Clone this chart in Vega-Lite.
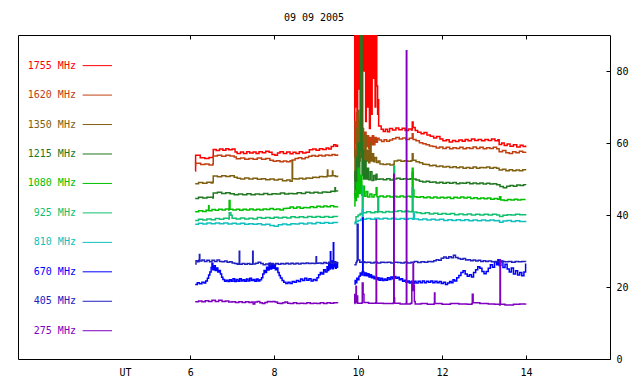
{
"$schema": "https://vega.github.io/schema/vega-lite/v6.json",
"width": 592, "height": 324,
"autosize": {"type": "none"},
"padding": {"left": 18, "top": 35, "right": 30, "bottom": 25},
"background": "white",
"title": {"text": "09 09 2005", "font": "DejaVu Sans Mono", "fontSize": 10, "fontWeight": "normal", "color": "black", "offset": 12, "anchor": "middle"},
"config": {"view": {"stroke": "black", "strokeWidth": 1}, "axis": {"labelFont": "DejaVu Sans Mono", "labelFontSize": 10, "labelColor": "black", "tickColor": "black", "grid": false, "domain": false}},
"datasets": {
"leg": [{"f":"1755","label":"1755 MHz"},{"f":"1620","label":"1620 MHz"},{"f":"1350","label":"1350 MHz"},{"f":"1215","label":"1215 MHz"},{"f":"1080","label":"1080 MHz"},{"f":"925","label":"925 MHz"},{"f":"810","label":"810 MHz"},{"f":"670","label":"670 MHz"},{"f":"405","label":"405 MHz"},{"f":"275","label":"275 MHz"}],
"obs": [
{"f":"1755","s":1,"t":6.12,"v":52.2},{"f":"1755","s":1,"t":6.13,"v":56.6},{"f":"1755","s":1,"t":6.24,"v":55.9},{"f":"1755","s":1,"t":6.35,"v":55.7},{"f":"1755","s":1,"t":6.45,"v":56.0},{"f":"1755","s":1,"t":6.55,"v":58.2},{"f":"1755","s":1,"t":6.62,"v":57.9},{"f":"1755","s":1,"t":6.7,"v":58.3},{"f":"1755","s":1,"t":6.78,"v":58.0},{"f":"1755","s":1,"t":6.85,"v":58.4},{"f":"1755","s":1,"t":6.92,"v":58.1},{"f":"1755","s":1,"t":7.0,"v":58.3},{"f":"1755","s":1,"t":7.07,"v":57.5},{"f":"1755","s":1,"t":7.12,"v":57.1},{"f":"1755","s":1,"t":7.2,"v":57.5},{"f":"1755","s":1,"t":7.27,"v":57.1},{"f":"1755","s":1,"t":7.35,"v":57.6},{"f":"1755","s":1,"t":7.42,"v":57.2},{"f":"1755","s":1,"t":7.5,"v":57.5},{"f":"1755","s":1,"t":7.57,"v":57.1},{"f":"1755","s":1,"t":7.64,"v":57.6},{"f":"1755","s":1,"t":7.72,"v":57.3},{"f":"1755","s":1,"t":7.8,"v":57.7},{"f":"1755","s":1,"t":7.88,"v":57.4},{"f":"1755","s":1,"t":7.95,"v":56.8},{"f":"1755","s":1,"t":8.02,"v":56.6},{"f":"1755","s":1,"t":8.08,"v":57.2},{"f":"1755","s":1,"t":8.14,"v":57.6},{"f":"1755","s":1,"t":8.22,"v":57.1},{"f":"1755","s":1,"t":8.3,"v":57.5},{"f":"1755","s":1,"t":8.38,"v":57.0},{"f":"1755","s":1,"t":8.45,"v":57.4},{"f":"1755","s":1,"t":8.52,"v":57.1},{"f":"1755","s":1,"t":8.6,"v":57.6},{"f":"1755","s":1,"t":8.68,"v":57.2},{"f":"1755","s":1,"t":8.76,"v":57.4},{"f":"1755","s":1,"t":8.84,"v":58.1},{"f":"1755","s":1,"t":8.92,"v":58.3},{"f":"1755","s":1,"t":9.0,"v":58.0},{"f":"1755","s":1,"t":9.08,"v":58.4},{"f":"1755","s":1,"t":9.16,"v":58.2},{"f":"1755","s":1,"t":9.24,"v":58.6},{"f":"1755","s":1,"t":9.3,"v":58.3},{"f":"1755","s":1,"t":9.36,"v":59.0},{"f":"1755","s":1,"t":9.42,"v":59.5},{"f":"1755","s":1,"t":9.47,"v":59.1},{"f":"1755","s":1,"t":9.51,"v":59.6},
{"f":"1755","s":2,"t":9.91,"v":56.4},{"f":"1755","s":2,"t":9.92,"v":95},{"f":"1755","s":2,"t":9.94,"v":70},{"f":"1755","s":2,"t":9.955,"v":95},{"f":"1755","s":2,"t":9.975,"v":62},{"f":"1755","s":2,"t":9.99,"v":95},{"f":"1755","s":2,"t":10.01,"v":75},{"f":"1755","s":2,"t":10.025,"v":95},{"f":"1755","s":2,"t":10.05,"v":66},{"f":"1755","s":2,"t":10.065,"v":95},{"f":"1755","s":2,"t":10.095,"v":64},{"f":"1755","s":2,"t":10.11,"v":95},{"f":"1755","s":2,"t":10.135,"v":80},{"f":"1755","s":2,"t":10.15,"v":95},{"f":"1755","s":2,"t":10.18,"v":66},{"f":"1755","s":2,"t":10.195,"v":95},{"f":"1755","s":2,"t":10.225,"v":70},{"f":"1755","s":2,"t":10.24,"v":95},{"f":"1755","s":2,"t":10.27,"v":64},{"f":"1755","s":2,"t":10.29,"v":95},{"f":"1755","s":2,"t":10.32,"v":68},{"f":"1755","s":2,"t":10.335,"v":95},{"f":"1755","s":2,"t":10.36,"v":78},{"f":"1755","s":2,"t":10.38,"v":92},{"f":"1755","s":2,"t":10.405,"v":70},{"f":"1755","s":2,"t":10.42,"v":95},{"f":"1755","s":2,"t":10.445,"v":75.8},{"f":"1755","s":2,"t":10.465,"v":68},{"f":"1755","s":2,"t":10.48,"v":72},{"f":"1755","s":2,"t":10.49,"v":64.7},{"f":"1755","s":2,"t":10.55,"v":63.8},{"f":"1755","s":2,"t":10.6,"v":63.2},{"f":"1755","s":2,"t":10.65,"v":63.8},{"f":"1755","s":2,"t":10.7,"v":63.1},{"f":"1755","s":2,"t":10.75,"v":64.0},{"f":"1755","s":2,"t":10.82,"v":63.6},{"f":"1755","s":2,"t":10.9,"v":64.2},{"f":"1755","s":2,"t":10.97,"v":63.7},{"f":"1755","s":2,"t":11.05,"v":64.1},{"f":"1755","s":2,"t":11.12,"v":63.5},{"f":"1755","s":2,"t":11.2,"v":63.9},{"f":"1755","s":2,"t":11.27,"v":63.6},{"f":"1755","s":2,"t":11.29,"v":65.8},{"f":"1755","s":2,"t":11.31,"v":64.3},{"f":"1755","s":2,"t":11.36,"v":63.5},{"f":"1755","s":2,"t":11.42,"v":63.0},{"f":"1755","s":2,"t":11.5,"v":62.6},{"f":"1755","s":2,"t":11.57,"v":62.9},{"f":"1755","s":2,"t":11.64,"v":62.2},{"f":"1755","s":2,"t":11.72,"v":61.9},{"f":"1755","s":2,"t":11.8,"v":61.4},{"f":"1755","s":2,"t":11.87,"v":61.8},{"f":"1755","s":2,"t":11.95,"v":61.1},{"f":"1755","s":2,"t":12.02,"v":60.6},{"f":"1755","s":2,"t":12.1,"v":60.9},{"f":"1755","s":2,"t":12.17,"v":60.3},{"f":"1755","s":2,"t":12.25,"v":60.7},{"f":"1755","s":2,"t":12.32,"v":60.4},{"f":"1755","s":2,"t":12.4,"v":60.8},{"f":"1755","s":2,"t":12.48,"v":60.5},{"f":"1755","s":2,"t":12.55,"v":61.0},{"f":"1755","s":2,"t":12.62,"v":60.6},{"f":"1755","s":2,"t":12.7,"v":61.1},{"f":"1755","s":2,"t":12.78,"v":60.7},{"f":"1755","s":2,"t":12.86,"v":61.0},{"f":"1755","s":2,"t":12.94,"v":60.6},{"f":"1755","s":2,"t":13.02,"v":61.0},{"f":"1755","s":2,"t":13.1,"v":60.7},{"f":"1755","s":2,"t":13.18,"v":61.1},{"f":"1755","s":2,"t":13.26,"v":60.6},{"f":"1755","s":2,"t":13.33,"v":60.9},{"f":"1755","s":2,"t":13.36,"v":59.6},{"f":"1755","s":2,"t":13.42,"v":60.0},{"f":"1755","s":2,"t":13.48,"v":59.3},{"f":"1755","s":2,"t":13.55,"v":59.7},{"f":"1755","s":2,"t":13.62,"v":59.1},{"f":"1755","s":2,"t":13.7,"v":59.5},{"f":"1755","s":2,"t":13.78,"v":58.9},{"f":"1755","s":2,"t":13.86,"v":59.4},{"f":"1755","s":2,"t":13.93,"v":59.0},{"f":"1755","s":2,"t":13.99,"v":59.3},
{"f":"1620","s":1,"t":6.12,"v":53.8},{"f":"1620","s":1,"t":6.13,"v":54.4},{"f":"1620","s":1,"t":6.25,"v":54.0},{"f":"1620","s":1,"t":6.35,"v":54.2},{"f":"1620","s":1,"t":6.45,"v":53.9},{"f":"1620","s":1,"t":6.54,"v":54.2},{"f":"1620","s":1,"t":6.55,"v":56.4},{"f":"1620","s":1,"t":6.65,"v":56.6},{"f":"1620","s":1,"t":6.75,"v":56.3},{"f":"1620","s":1,"t":6.85,"v":56.6},{"f":"1620","s":1,"t":6.95,"v":56.4},{"f":"1620","s":1,"t":7.05,"v":56.1},{"f":"1620","s":1,"t":7.1,"v":55.6},{"f":"1620","s":1,"t":7.2,"v":55.8},{"f":"1620","s":1,"t":7.3,"v":55.5},{"f":"1620","s":1,"t":7.4,"v":55.7},{"f":"1620","s":1,"t":7.5,"v":55.5},{"f":"1620","s":1,"t":7.6,"v":55.8},{"f":"1620","s":1,"t":7.7,"v":55.5},{"f":"1620","s":1,"t":7.8,"v":55.7},{"f":"1620","s":1,"t":7.9,"v":55.2},{"f":"1620","s":1,"t":7.98,"v":54.9},{"f":"1620","s":1,"t":8.06,"v":55.1},{"f":"1620","s":1,"t":8.14,"v":54.8},{"f":"1620","s":1,"t":8.22,"v":55.0},{"f":"1620","s":1,"t":8.3,"v":54.8},{"f":"1620","s":1,"t":8.38,"v":55.1},{"f":"1620","s":1,"t":8.43,"v":55.3},{"f":"1620","s":1,"t":8.5,"v":55.7},{"f":"1620","s":1,"t":8.58,"v":55.9},{"f":"1620","s":1,"t":8.66,"v":55.6},{"f":"1620","s":1,"t":8.74,"v":56.0},{"f":"1620","s":1,"t":8.82,"v":56.3},{"f":"1620","s":1,"t":8.9,"v":56.5},{"f":"1620","s":1,"t":8.98,"v":56.3},{"f":"1620","s":1,"t":9.06,"v":56.6},{"f":"1620","s":1,"t":9.14,"v":56.4},{"f":"1620","s":1,"t":9.22,"v":56.7},{"f":"1620","s":1,"t":9.3,"v":56.5},{"f":"1620","s":1,"t":9.38,"v":56.8},{"f":"1620","s":1,"t":9.45,"v":56.6},{"f":"1620","s":1,"t":9.51,"v":56.9},
{"f":"1620","s":2,"t":9.91,"v":56.0},{"f":"1620","s":2,"t":9.925,"v":66},{"f":"1620","s":2,"t":9.94,"v":60},{"f":"1620","s":2,"t":9.96,"v":68.5},{"f":"1620","s":2,"t":9.98,"v":61},{"f":"1620","s":2,"t":10.0,"v":65},{"f":"1620","s":2,"t":10.02,"v":59},{"f":"1620","s":2,"t":10.05,"v":67},{"f":"1620","s":2,"t":10.07,"v":60},{"f":"1620","s":2,"t":10.1,"v":64},{"f":"1620","s":2,"t":10.13,"v":58.5},{"f":"1620","s":2,"t":10.16,"v":63},{"f":"1620","s":2,"t":10.19,"v":59},{"f":"1620","s":2,"t":10.22,"v":62},{"f":"1620","s":2,"t":10.25,"v":58.5},{"f":"1620","s":2,"t":10.28,"v":61.5},{"f":"1620","s":2,"t":10.31,"v":59.5},{"f":"1620","s":2,"t":10.34,"v":62},{"f":"1620","s":2,"t":10.37,"v":59.5},{"f":"1620","s":2,"t":10.4,"v":61.5},{"f":"1620","s":2,"t":10.43,"v":60.2},{"f":"1620","s":2,"t":10.46,"v":61.3},{"f":"1620","s":2,"t":10.5,"v":60.8},{"f":"1620","s":2,"t":10.56,"v":60.4},{"f":"1620","s":2,"t":10.62,"v":60.9},{"f":"1620","s":2,"t":10.68,"v":60.5},{"f":"1620","s":2,"t":10.75,"v":60.8},{"f":"1620","s":2,"t":10.82,"v":61.2},{"f":"1620","s":2,"t":10.9,"v":61.5},{"f":"1620","s":2,"t":10.98,"v":61.1},{"f":"1620","s":2,"t":11.06,"v":61.4},{"f":"1620","s":2,"t":11.14,"v":61.0},{"f":"1620","s":2,"t":11.22,"v":61.3},{"f":"1620","s":2,"t":11.29,"v":62.6},{"f":"1620","s":2,"t":11.31,"v":61.0},{"f":"1620","s":2,"t":11.38,"v":60.6},{"f":"1620","s":2,"t":11.46,"v":60.1},{"f":"1620","s":2,"t":11.54,"v":59.8},{"f":"1620","s":2,"t":11.62,"v":59.5},{"f":"1620","s":2,"t":11.7,"v":59.2},{"f":"1620","s":2,"t":11.78,"v":59.0},{"f":"1620","s":2,"t":11.86,"v":58.6},{"f":"1620","s":2,"t":11.94,"v":58.9},{"f":"1620","s":2,"t":12.02,"v":58.5},{"f":"1620","s":2,"t":12.1,"v":58.8},{"f":"1620","s":2,"t":12.18,"v":58.4},{"f":"1620","s":2,"t":12.26,"v":58.7},{"f":"1620","s":2,"t":12.34,"v":58.5},{"f":"1620","s":2,"t":12.42,"v":58.8},{"f":"1620","s":2,"t":12.5,"v":58.4},{"f":"1620","s":2,"t":12.58,"v":58.7},{"f":"1620","s":2,"t":12.66,"v":58.5},{"f":"1620","s":2,"t":12.74,"v":58.9},{"f":"1620","s":2,"t":12.82,"v":58.5},{"f":"1620","s":2,"t":12.9,"v":58.8},{"f":"1620","s":2,"t":12.98,"v":58.4},{"f":"1620","s":2,"t":13.06,"v":58.7},{"f":"1620","s":2,"t":13.14,"v":58.5},{"f":"1620","s":2,"t":13.22,"v":58.8},{"f":"1620","s":2,"t":13.3,"v":58.4},{"f":"1620","s":2,"t":13.36,"v":57.6},{"f":"1620","s":2,"t":13.44,"v":57.9},{"f":"1620","s":2,"t":13.52,"v":57.3},{"f":"1620","s":2,"t":13.6,"v":57.1},{"f":"1620","s":2,"t":13.68,"v":57.6},{"f":"1620","s":2,"t":13.76,"v":57.3},{"f":"1620","s":2,"t":13.84,"v":57.7},{"f":"1620","s":2,"t":13.92,"v":57.4},{"f":"1620","s":2,"t":13.99,"v":57.6},
{"f":"1350","s":1,"t":6.12,"v":48.7},{"f":"1350","s":1,"t":6.2,"v":49.0},{"f":"1350","s":1,"t":6.3,"v":48.8},{"f":"1350","s":1,"t":6.4,"v":49.1},{"f":"1350","s":1,"t":6.5,"v":48.9},{"f":"1350","s":1,"t":6.54,"v":49.2},{"f":"1350","s":1,"t":6.55,"v":50.8},{"f":"1350","s":1,"t":6.65,"v":50.6},{"f":"1350","s":1,"t":6.75,"v":50.9},{"f":"1350","s":1,"t":6.85,"v":50.7},{"f":"1350","s":1,"t":6.95,"v":50.9},{"f":"1350","s":1,"t":7.05,"v":50.5},{"f":"1350","s":1,"t":7.12,"v":50.2},{"f":"1350","s":1,"t":7.2,"v":50.0},{"f":"1350","s":1,"t":7.3,"v":50.3},{"f":"1350","s":1,"t":7.4,"v":50.0},{"f":"1350","s":1,"t":7.5,"v":50.2},{"f":"1350","s":1,"t":7.6,"v":49.9},{"f":"1350","s":1,"t":7.7,"v":50.1},{"f":"1350","s":1,"t":7.8,"v":49.8},{"f":"1350","s":1,"t":7.9,"v":50.0},{"f":"1350","s":1,"t":8.0,"v":49.7},{"f":"1350","s":1,"t":8.1,"v":49.9},{"f":"1350","s":1,"t":8.2,"v":49.5},{"f":"1350","s":1,"t":8.3,"v":49.7},{"f":"1350","s":1,"t":8.38,"v":49.4},{"f":"1350","s":1,"t":8.43,"v":55.0},{"f":"1350","s":1,"t":8.44,"v":50.1},{"f":"1350","s":1,"t":8.52,"v":50.0},{"f":"1350","s":1,"t":8.6,"v":50.2},{"f":"1350","s":1,"t":8.68,"v":50.0},{"f":"1350","s":1,"t":8.76,"v":50.3},{"f":"1350","s":1,"t":8.84,"v":50.2},{"f":"1350","s":1,"t":8.92,"v":50.5},{"f":"1350","s":1,"t":9.0,"v":50.4},{"f":"1350","s":1,"t":9.08,"v":50.7},{"f":"1350","s":1,"t":9.16,"v":50.6},{"f":"1350","s":1,"t":9.26,"v":50.8},{"f":"1350","s":1,"t":9.27,"v":52.5},{"f":"1350","s":1,"t":9.28,"v":50.8},{"f":"1350","s":1,"t":9.36,"v":50.9},{"f":"1350","s":1,"t":9.39,"v":52.2},{"f":"1350","s":1,"t":9.4,"v":50.9},{"f":"1350","s":1,"t":9.46,"v":50.7},{"f":"1350","s":1,"t":9.51,"v":51.0},
{"f":"1350","s":2,"t":9.91,"v":49.5},{"f":"1350","s":2,"t":9.925,"v":58},{"f":"1350","s":2,"t":9.94,"v":52},{"f":"1350","s":2,"t":9.96,"v":64},{"f":"1350","s":2,"t":9.98,"v":54},{"f":"1350","s":2,"t":10.0,"v":69},{"f":"1350","s":2,"t":10.02,"v":55},{"f":"1350","s":2,"t":10.05,"v":66},{"f":"1350","s":2,"t":10.07,"v":56},{"f":"1350","s":2,"t":10.1,"v":60},{"f":"1350","s":2,"t":10.13,"v":54},{"f":"1350","s":2,"t":10.16,"v":62},{"f":"1350","s":2,"t":10.19,"v":55},{"f":"1350","s":2,"t":10.22,"v":58},{"f":"1350","s":2,"t":10.25,"v":54.5},{"f":"1350","s":2,"t":10.28,"v":60},{"f":"1350","s":2,"t":10.31,"v":55},{"f":"1350","s":2,"t":10.34,"v":57},{"f":"1350","s":2,"t":10.37,"v":54.8},{"f":"1350","s":2,"t":10.4,"v":56},{"f":"1350","s":2,"t":10.44,"v":54.6},{"f":"1350","s":2,"t":10.48,"v":55.0},{"f":"1350","s":2,"t":10.52,"v":54.2},{"f":"1350","s":2,"t":10.6,"v":54.0},{"f":"1350","s":2,"t":10.68,"v":54.2},{"f":"1350","s":2,"t":10.76,"v":53.9},{"f":"1350","s":2,"t":10.84,"v":54.1},{"f":"1350","s":2,"t":10.86,"v":55.0},{"f":"1350","s":2,"t":10.94,"v":55.2},{"f":"1350","s":2,"t":11.02,"v":54.9},{"f":"1350","s":2,"t":11.1,"v":55.1},{"f":"1350","s":2,"t":11.18,"v":54.9},{"f":"1350","s":2,"t":11.26,"v":55.1},{"f":"1350","s":2,"t":11.29,"v":57.0},{"f":"1350","s":2,"t":11.31,"v":55.2},{"f":"1350","s":2,"t":11.38,"v":54.8},{"f":"1350","s":2,"t":11.46,"v":54.5},{"f":"1350","s":2,"t":11.54,"v":54.1},{"f":"1350","s":2,"t":11.62,"v":54.0},{"f":"1350","s":2,"t":11.7,"v":53.7},{"f":"1350","s":2,"t":11.78,"v":53.8},{"f":"1350","s":2,"t":11.86,"v":53.5},{"f":"1350","s":2,"t":11.94,"v":53.6},{"f":"1350","s":2,"t":12.02,"v":53.3},{"f":"1350","s":2,"t":12.1,"v":53.5},{"f":"1350","s":2,"t":12.18,"v":53.2},{"f":"1350","s":2,"t":12.26,"v":53.4},{"f":"1350","s":2,"t":12.34,"v":53.1},{"f":"1350","s":2,"t":12.42,"v":53.3},{"f":"1350","s":2,"t":12.5,"v":53.0},{"f":"1350","s":2,"t":12.58,"v":53.2},{"f":"1350","s":2,"t":12.66,"v":53.0},{"f":"1350","s":2,"t":12.74,"v":53.3},{"f":"1350","s":2,"t":12.82,"v":53.0},{"f":"1350","s":2,"t":12.9,"v":53.2},{"f":"1350","s":2,"t":12.98,"v":53.1},{"f":"1350","s":2,"t":13.06,"v":53.3},{"f":"1350","s":2,"t":13.14,"v":53.0},{"f":"1350","s":2,"t":13.22,"v":53.2},{"f":"1350","s":2,"t":13.3,"v":53.0},{"f":"1350","s":2,"t":13.36,"v":52.5},{"f":"1350","s":2,"t":13.44,"v":52.7},{"f":"1350","s":2,"t":13.52,"v":52.3},{"f":"1350","s":2,"t":13.6,"v":52.6},{"f":"1350","s":2,"t":13.68,"v":52.3},{"f":"1350","s":2,"t":13.76,"v":52.5},{"f":"1350","s":2,"t":13.84,"v":52.3},{"f":"1350","s":2,"t":13.92,"v":52.6},{"f":"1350","s":2,"t":13.99,"v":52.4},
{"f":"1215","s":1,"t":6.12,"v":44.6},{"f":"1215","s":1,"t":6.2,"v":44.9},{"f":"1215","s":1,"t":6.3,"v":44.7},{"f":"1215","s":1,"t":6.4,"v":44.9},{"f":"1215","s":1,"t":6.54,"v":44.7},{"f":"1215","s":1,"t":6.55,"v":46.1},{"f":"1215","s":1,"t":6.65,"v":46.3},{"f":"1215","s":1,"t":6.75,"v":46.0},{"f":"1215","s":1,"t":6.85,"v":46.2},{"f":"1215","s":1,"t":6.95,"v":45.9},{"f":"1215","s":1,"t":7.05,"v":45.6},{"f":"1215","s":1,"t":7.15,"v":45.8},{"f":"1215","s":1,"t":7.25,"v":45.6},{"f":"1215","s":1,"t":7.35,"v":45.9},{"f":"1215","s":1,"t":7.45,"v":45.6},{"f":"1215","s":1,"t":7.55,"v":45.8},{"f":"1215","s":1,"t":7.65,"v":45.7},{"f":"1215","s":1,"t":7.75,"v":46.0},{"f":"1215","s":1,"t":7.85,"v":45.7},{"f":"1215","s":1,"t":7.95,"v":45.9},{"f":"1215","s":1,"t":8.05,"v":45.8},{"f":"1215","s":1,"t":8.15,"v":46.1},{"f":"1215","s":1,"t":8.25,"v":45.8},{"f":"1215","s":1,"t":8.35,"v":46.0},{"f":"1215","s":1,"t":8.45,"v":45.9},{"f":"1215","s":1,"t":8.55,"v":46.2},{"f":"1215","s":1,"t":8.65,"v":46.0},{"f":"1215","s":1,"t":8.75,"v":46.3},{"f":"1215","s":1,"t":8.85,"v":46.1},{"f":"1215","s":1,"t":8.95,"v":46.3},{"f":"1215","s":1,"t":9.05,"v":46.1},{"f":"1215","s":1,"t":9.15,"v":46.4},{"f":"1215","s":1,"t":9.25,"v":46.3},{"f":"1215","s":1,"t":9.35,"v":46.6},{"f":"1215","s":1,"t":9.44,"v":46.5},{"f":"1215","s":1,"t":9.45,"v":47.6},{"f":"1215","s":1,"t":9.46,"v":46.7},{"f":"1215","s":1,"t":9.51,"v":46.5},
{"f":"1215","s":2,"t":9.91,"v":45.0},{"f":"1215","s":2,"t":9.925,"v":52},{"f":"1215","s":2,"t":9.94,"v":47},{"f":"1215","s":2,"t":9.96,"v":56},{"f":"1215","s":2,"t":9.98,"v":49},{"f":"1215","s":2,"t":10.0,"v":60},{"f":"1215","s":2,"t":10.02,"v":50},{"f":"1215","s":2,"t":10.04,"v":58},{"f":"1215","s":2,"t":10.06,"v":95},{"f":"1215","s":2,"t":10.075,"v":70},{"f":"1215","s":2,"t":10.08,"v":95},{"f":"1215","s":2,"t":10.095,"v":51},{"f":"1215","s":2,"t":10.1,"v":58},{"f":"1215","s":2,"t":10.13,"v":50},{"f":"1215","s":2,"t":10.16,"v":55},{"f":"1215","s":2,"t":10.19,"v":50},{"f":"1215","s":2,"t":10.22,"v":53},{"f":"1215","s":2,"t":10.25,"v":49.8},{"f":"1215","s":2,"t":10.29,"v":52},{"f":"1215","s":2,"t":10.33,"v":49.6},{"f":"1215","s":2,"t":10.37,"v":51},{"f":"1215","s":2,"t":10.41,"v":49.8},{"f":"1215","s":2,"t":10.43,"v":51.3},{"f":"1215","s":2,"t":10.45,"v":49.9},{"f":"1215","s":2,"t":10.52,"v":50.0},{"f":"1215","s":2,"t":10.6,"v":49.8},{"f":"1215","s":2,"t":10.68,"v":50.1},{"f":"1215","s":2,"t":10.76,"v":49.7},{"f":"1215","s":2,"t":10.84,"v":50.0},{"f":"1215","s":2,"t":10.92,"v":50.2},{"f":"1215","s":2,"t":11.0,"v":49.9},{"f":"1215","s":2,"t":11.08,"v":50.1},{"f":"1215","s":2,"t":11.16,"v":49.9},{"f":"1215","s":2,"t":11.24,"v":50.1},{"f":"1215","s":2,"t":11.29,"v":51.9},{"f":"1215","s":2,"t":11.31,"v":50.0},{"f":"1215","s":2,"t":11.38,"v":49.7},{"f":"1215","s":2,"t":11.46,"v":49.4},{"f":"1215","s":2,"t":11.54,"v":49.2},{"f":"1215","s":2,"t":11.62,"v":49.4},{"f":"1215","s":2,"t":11.7,"v":49.1},{"f":"1215","s":2,"t":11.78,"v":49.2},{"f":"1215","s":2,"t":11.86,"v":48.9},{"f":"1215","s":2,"t":11.94,"v":49.1},{"f":"1215","s":2,"t":12.02,"v":48.8},{"f":"1215","s":2,"t":12.1,"v":49.0},{"f":"1215","s":2,"t":12.18,"v":48.8},{"f":"1215","s":2,"t":12.26,"v":49.0},{"f":"1215","s":2,"t":12.34,"v":48.7},{"f":"1215","s":2,"t":12.42,"v":48.9},{"f":"1215","s":2,"t":12.5,"v":48.8},{"f":"1215","s":2,"t":12.58,"v":49.0},{"f":"1215","s":2,"t":12.66,"v":48.7},{"f":"1215","s":2,"t":12.74,"v":48.9},{"f":"1215","s":2,"t":12.82,"v":48.7},{"f":"1215","s":2,"t":12.9,"v":48.9},{"f":"1215","s":2,"t":12.98,"v":48.6},{"f":"1215","s":2,"t":13.06,"v":48.8},{"f":"1215","s":2,"t":13.14,"v":48.6},{"f":"1215","s":2,"t":13.22,"v":48.7},{"f":"1215","s":2,"t":13.3,"v":48.4},{"f":"1215","s":2,"t":13.38,"v":47.9},{"f":"1215","s":2,"t":13.46,"v":47.6},{"f":"1215","s":2,"t":13.54,"v":48.0},{"f":"1215","s":2,"t":13.62,"v":48.2},{"f":"1215","s":2,"t":13.7,"v":48.0},{"f":"1215","s":2,"t":13.78,"v":48.3},{"f":"1215","s":2,"t":13.86,"v":48.2},{"f":"1215","s":2,"t":13.94,"v":48.4},{"f":"1215","s":2,"t":13.99,"v":48.3},
{"f":"1080","s":1,"t":6.12,"v":40.9},{"f":"1080","s":1,"t":6.2,"v":41.2},{"f":"1080","s":1,"t":6.3,"v":41.0},{"f":"1080","s":1,"t":6.38,"v":41.3},{"f":"1080","s":1,"t":6.44,"v":42.6},{"f":"1080","s":1,"t":6.45,"v":41.2},{"f":"1080","s":1,"t":6.52,"v":41.5},{"f":"1080","s":1,"t":6.6,"v":41.3},{"f":"1080","s":1,"t":6.68,"v":41.6},{"f":"1080","s":1,"t":6.76,"v":41.4},{"f":"1080","s":1,"t":6.84,"v":41.7},{"f":"1080","s":1,"t":6.92,"v":41.4},{"f":"1080","s":1,"t":6.93,"v":44.0},{"f":"1080","s":1,"t":6.95,"v":41.6},{"f":"1080","s":1,"t":7.02,"v":41.4},{"f":"1080","s":1,"t":7.1,"v":41.6},{"f":"1080","s":1,"t":7.18,"v":41.3},{"f":"1080","s":1,"t":7.26,"v":41.6},{"f":"1080","s":1,"t":7.34,"v":41.4},{"f":"1080","s":1,"t":7.42,"v":41.7},{"f":"1080","s":1,"t":7.5,"v":41.4},{"f":"1080","s":1,"t":7.58,"v":41.6},{"f":"1080","s":1,"t":7.66,"v":41.4},{"f":"1080","s":1,"t":7.74,"v":41.7},{"f":"1080","s":1,"t":7.82,"v":41.5},{"f":"1080","s":1,"t":7.9,"v":41.8},{"f":"1080","s":1,"t":7.98,"v":41.5},{"f":"1080","s":1,"t":8.06,"v":41.7},{"f":"1080","s":1,"t":8.14,"v":41.4},{"f":"1080","s":1,"t":8.22,"v":41.8},{"f":"1080","s":1,"t":8.3,"v":41.9},{"f":"1080","s":1,"t":8.38,"v":42.2},{"f":"1080","s":1,"t":8.46,"v":41.9},{"f":"1080","s":1,"t":8.54,"v":42.2},{"f":"1080","s":1,"t":8.62,"v":41.9},{"f":"1080","s":1,"t":8.7,"v":42.1},{"f":"1080","s":1,"t":8.78,"v":42.0},{"f":"1080","s":1,"t":8.86,"v":42.3},{"f":"1080","s":1,"t":8.94,"v":42.1},{"f":"1080","s":1,"t":9.02,"v":42.4},{"f":"1080","s":1,"t":9.1,"v":42.2},{"f":"1080","s":1,"t":9.18,"v":42.5},{"f":"1080","s":1,"t":9.26,"v":42.3},{"f":"1080","s":1,"t":9.34,"v":42.6},{"f":"1080","s":1,"t":9.42,"v":42.3},{"f":"1080","s":1,"t":9.51,"v":42.4},
{"f":"1080","s":2,"t":9.91,"v":42.5},{"f":"1080","s":2,"t":9.925,"v":46},{"f":"1080","s":2,"t":9.94,"v":44},{"f":"1080","s":2,"t":9.96,"v":49},{"f":"1080","s":2,"t":9.98,"v":45},{"f":"1080","s":2,"t":10.0,"v":53},{"f":"1080","s":2,"t":10.03,"v":46},{"f":"1080","s":2,"t":10.06,"v":51},{"f":"1080","s":2,"t":10.09,"v":45.5},{"f":"1080","s":2,"t":10.12,"v":48},{"f":"1080","s":2,"t":10.15,"v":45.2},{"f":"1080","s":2,"t":10.19,"v":46.5},{"f":"1080","s":2,"t":10.23,"v":45.0},{"f":"1080","s":2,"t":10.28,"v":45.8},{"f":"1080","s":2,"t":10.33,"v":45.0},{"f":"1080","s":2,"t":10.38,"v":45.6},{"f":"1080","s":2,"t":10.43,"v":47.6},{"f":"1080","s":2,"t":10.45,"v":45.1},{"f":"1080","s":2,"t":10.52,"v":45.3},{"f":"1080","s":2,"t":10.6,"v":45.0},{"f":"1080","s":2,"t":10.68,"v":45.3},{"f":"1080","s":2,"t":10.76,"v":45.0},{"f":"1080","s":2,"t":10.84,"v":45.2},{"f":"1080","s":2,"t":10.92,"v":45.0},{"f":"1080","s":2,"t":11.0,"v":45.3},{"f":"1080","s":2,"t":11.08,"v":45.0},{"f":"1080","s":2,"t":11.16,"v":45.2},{"f":"1080","s":2,"t":11.24,"v":45.0},{"f":"1080","s":2,"t":11.29,"v":53.0},{"f":"1080","s":2,"t":11.31,"v":47.0},{"f":"1080","s":2,"t":11.33,"v":45.1},{"f":"1080","s":2,"t":11.4,"v":44.9},{"f":"1080","s":2,"t":11.48,"v":45.1},{"f":"1080","s":2,"t":11.56,"v":44.8},{"f":"1080","s":2,"t":11.64,"v":45.0},{"f":"1080","s":2,"t":11.72,"v":44.7},{"f":"1080","s":2,"t":11.8,"v":45.0},{"f":"1080","s":2,"t":11.88,"v":44.7},{"f":"1080","s":2,"t":11.96,"v":44.9},{"f":"1080","s":2,"t":12.04,"v":44.7},{"f":"1080","s":2,"t":12.12,"v":44.9},{"f":"1080","s":2,"t":12.2,"v":44.6},{"f":"1080","s":2,"t":12.28,"v":44.9},{"f":"1080","s":2,"t":12.36,"v":44.7},{"f":"1080","s":2,"t":12.44,"v":45.0},{"f":"1080","s":2,"t":12.52,"v":44.7},{"f":"1080","s":2,"t":12.6,"v":44.9},{"f":"1080","s":2,"t":12.68,"v":44.6},{"f":"1080","s":2,"t":12.76,"v":44.8},{"f":"1080","s":2,"t":12.84,"v":44.5},{"f":"1080","s":2,"t":12.92,"v":44.7},{"f":"1080","s":2,"t":13.0,"v":44.5},{"f":"1080","s":2,"t":13.08,"v":44.7},{"f":"1080","s":2,"t":13.16,"v":44.4},{"f":"1080","s":2,"t":13.24,"v":44.6},{"f":"1080","s":2,"t":13.32,"v":44.4},{"f":"1080","s":2,"t":13.37,"v":45.1},{"f":"1080","s":2,"t":13.4,"v":44.2},{"f":"1080","s":2,"t":13.48,"v":44.0},{"f":"1080","s":2,"t":13.56,"v":44.3},{"f":"1080","s":2,"t":13.64,"v":44.2},{"f":"1080","s":2,"t":13.72,"v":44.4},{"f":"1080","s":2,"t":13.8,"v":44.2},{"f":"1080","s":2,"t":13.88,"v":44.3},{"f":"1080","s":2,"t":13.99,"v":44.3},
{"f":"925","s":1,"t":6.12,"v":38.5},{"f":"925","s":1,"t":6.2,"v":38.8},{"f":"925","s":1,"t":6.3,"v":38.6},{"f":"925","s":1,"t":6.4,"v":38.9},{"f":"925","s":1,"t":6.5,"v":38.7},{"f":"925","s":1,"t":6.6,"v":39.0},{"f":"925","s":1,"t":6.7,"v":38.8},{"f":"925","s":1,"t":6.8,"v":39.1},{"f":"925","s":1,"t":6.92,"v":38.9},{"f":"925","s":1,"t":6.93,"v":40.6},{"f":"925","s":1,"t":6.97,"v":39.9},{"f":"925","s":1,"t":7.0,"v":39.1},{"f":"925","s":1,"t":7.1,"v":38.9},{"f":"925","s":1,"t":7.2,"v":39.2},{"f":"925","s":1,"t":7.3,"v":38.9},{"f":"925","s":1,"t":7.4,"v":39.1},{"f":"925","s":1,"t":7.5,"v":38.9},{"f":"925","s":1,"t":7.6,"v":39.3},{"f":"925","s":1,"t":7.7,"v":39.1},{"f":"925","s":1,"t":7.8,"v":39.3},{"f":"925","s":1,"t":7.9,"v":39.1},{"f":"925","s":1,"t":8.0,"v":39.4},{"f":"925","s":1,"t":8.1,"v":39.2},{"f":"925","s":1,"t":8.2,"v":39.4},{"f":"925","s":1,"t":8.3,"v":39.2},{"f":"925","s":1,"t":8.4,"v":39.5},{"f":"925","s":1,"t":8.5,"v":39.3},{"f":"925","s":1,"t":8.6,"v":39.5},{"f":"925","s":1,"t":8.7,"v":39.3},{"f":"925","s":1,"t":8.8,"v":39.6},{"f":"925","s":1,"t":8.9,"v":39.4},{"f":"925","s":1,"t":9.0,"v":39.6},{"f":"925","s":1,"t":9.1,"v":39.4},{"f":"925","s":1,"t":9.2,"v":39.6},{"f":"925","s":1,"t":9.3,"v":39.4},{"f":"925","s":1,"t":9.4,"v":39.6},{"f":"925","s":1,"t":9.51,"v":39.5},
{"f":"925","s":2,"t":9.91,"v":38.0},{"f":"925","s":2,"t":9.95,"v":39.5},{"f":"925","s":2,"t":10.0,"v":40.0},{"f":"925","s":2,"t":10.05,"v":40.4},{"f":"925","s":2,"t":10.09,"v":40.2},{"f":"925","s":2,"t":10.1,"v":48.0},{"f":"925","s":2,"t":10.12,"v":40.6},{"f":"925","s":2,"t":10.2,"v":40.9},{"f":"925","s":2,"t":10.3,"v":40.6},{"f":"925","s":2,"t":10.4,"v":40.9},{"f":"925","s":2,"t":10.46,"v":40.7},{"f":"925","s":2,"t":10.47,"v":44.8},{"f":"925","s":2,"t":10.49,"v":40.9},{"f":"925","s":2,"t":10.58,"v":40.7},{"f":"925","s":2,"t":10.66,"v":41.0},{"f":"925","s":2,"t":10.74,"v":40.8},{"f":"925","s":2,"t":10.84,"v":41.0},{"f":"925","s":2,"t":10.85,"v":53.6},{"f":"925","s":2,"t":10.87,"v":41.0},{"f":"925","s":2,"t":10.95,"v":41.2},{"f":"925","s":2,"t":11.04,"v":40.9},{"f":"925","s":2,"t":11.12,"v":41.1},{"f":"925","s":2,"t":11.2,"v":40.9},{"f":"925","s":2,"t":11.28,"v":41.1},{"f":"925","s":2,"t":11.29,"v":47.5},{"f":"925","s":2,"t":11.31,"v":40.8},{"f":"925","s":2,"t":11.4,"v":40.6},{"f":"925","s":2,"t":11.5,"v":40.4},{"f":"925","s":2,"t":11.6,"v":40.6},{"f":"925","s":2,"t":11.7,"v":40.3},{"f":"925","s":2,"t":11.8,"v":40.5},{"f":"925","s":2,"t":11.9,"v":40.2},{"f":"925","s":2,"t":12.0,"v":40.4},{"f":"925","s":2,"t":12.1,"v":40.2},{"f":"925","s":2,"t":12.2,"v":40.4},{"f":"925","s":2,"t":12.3,"v":40.1},{"f":"925","s":2,"t":12.4,"v":40.3},{"f":"925","s":2,"t":12.5,"v":40.1},{"f":"925","s":2,"t":12.6,"v":40.3},{"f":"925","s":2,"t":12.7,"v":40.0},{"f":"925","s":2,"t":12.8,"v":40.2},{"f":"925","s":2,"t":12.9,"v":40.0},{"f":"925","s":2,"t":13.0,"v":40.2},{"f":"925","s":2,"t":13.1,"v":40.0},{"f":"925","s":2,"t":13.2,"v":40.2},{"f":"925","s":2,"t":13.3,"v":40.0},{"f":"925","s":2,"t":13.37,"v":39.6},{"f":"925","s":2,"t":13.45,"v":39.9},{"f":"925","s":2,"t":13.55,"v":40.1},{"f":"925","s":2,"t":13.65,"v":40.0},{"f":"925","s":2,"t":13.75,"v":40.2},{"f":"925","s":2,"t":13.85,"v":40.1},{"f":"925","s":2,"t":13.99,"v":40.3},
{"f":"810","s":1,"t":6.12,"v":37.4},{"f":"810","s":1,"t":6.2,"v":37.7},{"f":"810","s":1,"t":6.3,"v":37.5},{"f":"810","s":1,"t":6.4,"v":37.8},{"f":"810","s":1,"t":6.5,"v":37.6},{"f":"810","s":1,"t":6.6,"v":37.8},{"f":"810","s":1,"t":6.7,"v":37.6},{"f":"810","s":1,"t":6.8,"v":37.8},{"f":"810","s":1,"t":6.9,"v":37.5},{"f":"810","s":1,"t":7.0,"v":37.7},{"f":"810","s":1,"t":7.1,"v":37.5},{"f":"810","s":1,"t":7.2,"v":37.7},{"f":"810","s":1,"t":7.3,"v":37.4},{"f":"810","s":1,"t":7.4,"v":37.6},{"f":"810","s":1,"t":7.5,"v":37.4},{"f":"810","s":1,"t":7.6,"v":37.6},{"f":"810","s":1,"t":7.7,"v":37.3},{"f":"810","s":1,"t":7.8,"v":37.4},{"f":"810","s":1,"t":7.9,"v":37.1},{"f":"810","s":1,"t":8.0,"v":36.9},{"f":"810","s":1,"t":8.1,"v":37.3},{"f":"810","s":1,"t":8.2,"v":37.5},{"f":"810","s":1,"t":8.3,"v":37.3},{"f":"810","s":1,"t":8.4,"v":37.6},{"f":"810","s":1,"t":8.5,"v":37.5},{"f":"810","s":1,"t":8.6,"v":37.7},{"f":"810","s":1,"t":8.7,"v":37.5},{"f":"810","s":1,"t":8.8,"v":37.8},{"f":"810","s":1,"t":8.9,"v":37.6},{"f":"810","s":1,"t":9.0,"v":37.9},{"f":"810","s":1,"t":9.1,"v":37.7},{"f":"810","s":1,"t":9.2,"v":37.9},{"f":"810","s":1,"t":9.3,"v":37.7},{"f":"810","s":1,"t":9.4,"v":37.9},{"f":"810","s":1,"t":9.51,"v":37.8},
{"f":"810","s":2,"t":9.91,"v":37.6},{"f":"810","s":2,"t":9.95,"v":38.2},{"f":"810","s":2,"t":10.0,"v":38.5},{"f":"810","s":2,"t":10.06,"v":38.8},{"f":"810","s":2,"t":10.09,"v":38.6},{"f":"810","s":2,"t":10.1,"v":41.5},{"f":"810","s":2,"t":10.12,"v":38.8},{"f":"810","s":2,"t":10.2,"v":39.0},{"f":"810","s":2,"t":10.3,"v":38.8},{"f":"810","s":2,"t":10.4,"v":39.1},{"f":"810","s":2,"t":10.5,"v":38.9},{"f":"810","s":2,"t":10.6,"v":39.1},{"f":"810","s":2,"t":10.7,"v":38.9},{"f":"810","s":2,"t":10.8,"v":39.1},{"f":"810","s":2,"t":10.9,"v":38.8},{"f":"810","s":2,"t":11.0,"v":39.0},{"f":"810","s":2,"t":11.1,"v":38.8},{"f":"810","s":2,"t":11.2,"v":39.0},{"f":"810","s":2,"t":11.3,"v":38.8},{"f":"810","s":2,"t":11.32,"v":40.5},{"f":"810","s":2,"t":11.34,"v":38.9},{"f":"810","s":2,"t":11.44,"v":38.7},{"f":"810","s":2,"t":11.54,"v":38.9},{"f":"810","s":2,"t":11.64,"v":38.6},{"f":"810","s":2,"t":11.74,"v":38.8},{"f":"810","s":2,"t":11.84,"v":38.6},{"f":"810","s":2,"t":11.94,"v":38.8},{"f":"810","s":2,"t":12.04,"v":38.5},{"f":"810","s":2,"t":12.14,"v":38.7},{"f":"810","s":2,"t":12.24,"v":38.5},{"f":"810","s":2,"t":12.34,"v":38.7},{"f":"810","s":2,"t":12.44,"v":38.5},{"f":"810","s":2,"t":12.54,"v":38.7},{"f":"810","s":2,"t":12.64,"v":38.4},{"f":"810","s":2,"t":12.74,"v":38.6},{"f":"810","s":2,"t":12.84,"v":38.4},{"f":"810","s":2,"t":12.94,"v":38.6},{"f":"810","s":2,"t":13.04,"v":38.4},{"f":"810","s":2,"t":13.14,"v":38.6},{"f":"810","s":2,"t":13.24,"v":38.4},{"f":"810","s":2,"t":13.34,"v":38.5},{"f":"810","s":2,"t":13.37,"v":38.0},{"f":"810","s":2,"t":13.45,"v":38.3},{"f":"810","s":2,"t":13.55,"v":38.5},{"f":"810","s":2,"t":13.65,"v":38.2},{"f":"810","s":2,"t":13.75,"v":38.4},{"f":"810","s":2,"t":13.85,"v":38.2},{"f":"810","s":2,"t":13.99,"v":38.4},
{"f":"670","s":1,"t":6.12,"v":20.7},{"f":"670","s":1,"t":6.17,"v":21.2},{"f":"670","s":1,"t":6.22,"v":20.9},{"f":"670","s":1,"t":6.28,"v":21.3},{"f":"670","s":1,"t":6.33,"v":21.1},{"f":"670","s":1,"t":6.37,"v":21.7},{"f":"670","s":1,"t":6.41,"v":22.4},{"f":"670","s":1,"t":6.44,"v":23.3},{"f":"670","s":1,"t":6.47,"v":24.2},{"f":"670","s":1,"t":6.5,"v":25.4},{"f":"670","s":1,"t":6.52,"v":26.6},{"f":"670","s":1,"t":6.54,"v":24.8},{"f":"670","s":1,"t":6.57,"v":25.9},{"f":"670","s":1,"t":6.6,"v":24.6},{"f":"670","s":1,"t":6.63,"v":25.3},{"f":"670","s":1,"t":6.66,"v":24.2},{"f":"670","s":1,"t":6.69,"v":24.6},{"f":"670","s":1,"t":6.72,"v":23.6},{"f":"670","s":1,"t":6.75,"v":22.7},{"f":"670","s":1,"t":6.78,"v":22.1},{"f":"670","s":1,"t":6.82,"v":21.6},{"f":"670","s":1,"t":6.86,"v":21.9},{"f":"670","s":1,"t":6.9,"v":21.5},{"f":"670","s":1,"t":6.94,"v":22.0},{"f":"670","s":1,"t":6.98,"v":21.6},{"f":"670","s":1,"t":7.02,"v":22.3},{"f":"670","s":1,"t":7.06,"v":21.5},{"f":"670","s":1,"t":7.1,"v":22.1},{"f":"670","s":1,"t":7.14,"v":21.6},{"f":"670","s":1,"t":7.18,"v":22.3},{"f":"670","s":1,"t":7.22,"v":21.7},{"f":"670","s":1,"t":7.26,"v":22.0},{"f":"670","s":1,"t":7.3,"v":21.6},{"f":"670","s":1,"t":7.34,"v":22.2},{"f":"670","s":1,"t":7.38,"v":21.7},{"f":"670","s":1,"t":7.42,"v":22.4},{"f":"670","s":1,"t":7.46,"v":21.8},{"f":"670","s":1,"t":7.5,"v":22.1},{"f":"670","s":1,"t":7.54,"v":21.6},{"f":"670","s":1,"t":7.58,"v":22.2},{"f":"670","s":1,"t":7.62,"v":21.7},{"f":"670","s":1,"t":7.66,"v":22.0},{"f":"670","s":1,"t":7.7,"v":22.6},{"f":"670","s":1,"t":7.73,"v":23.6},{"f":"670","s":1,"t":7.76,"v":24.6},{"f":"670","s":1,"t":7.79,"v":24.0},{"f":"670","s":1,"t":7.82,"v":25.5},{"f":"670","s":1,"t":7.85,"v":24.7},{"f":"670","s":1,"t":7.88,"v":26.6},{"f":"670","s":1,"t":7.91,"v":25.0},{"f":"670","s":1,"t":7.94,"v":26.4},{"f":"670","s":1,"t":7.97,"v":25.2},{"f":"670","s":1,"t":8.0,"v":26.2},{"f":"670","s":1,"t":8.03,"v":24.8},{"f":"670","s":1,"t":8.06,"v":25.3},{"f":"670","s":1,"t":8.09,"v":24.0},{"f":"670","s":1,"t":8.12,"v":23.2},{"f":"670","s":1,"t":8.15,"v":22.5},{"f":"670","s":1,"t":8.19,"v":21.8},{"f":"670","s":1,"t":8.23,"v":21.3},{"f":"670","s":1,"t":8.28,"v":21.0},{"f":"670","s":1,"t":8.33,"v":21.3},{"f":"670","s":1,"t":8.38,"v":21.0},{"f":"670","s":1,"t":8.43,"v":21.5},{"f":"670","s":1,"t":8.48,"v":21.3},{"f":"670","s":1,"t":8.53,"v":21.8},{"f":"670","s":1,"t":8.58,"v":21.5},{"f":"670","s":1,"t":8.63,"v":22.2},{"f":"670","s":1,"t":8.68,"v":21.8},{"f":"670","s":1,"t":8.73,"v":22.4},{"f":"670","s":1,"t":8.78,"v":21.9},{"f":"670","s":1,"t":8.83,"v":22.3},{"f":"670","s":1,"t":8.88,"v":21.7},{"f":"670","s":1,"t":8.93,"v":22.1},{"f":"670","s":1,"t":8.98,"v":21.8},{"f":"670","s":1,"t":9.02,"v":22.6},{"f":"670","s":1,"t":9.06,"v":23.4},{"f":"670","s":1,"t":9.1,"v":24.0},{"f":"670","s":1,"t":9.14,"v":23.6},{"f":"670","s":1,"t":9.18,"v":24.8},{"f":"670","s":1,"t":9.22,"v":24.2},{"f":"670","s":1,"t":9.26,"v":25.6},{"f":"670","s":1,"t":9.28,"v":24.6},{"f":"670","s":1,"t":9.3,"v":26.5},{"f":"670","s":1,"t":9.32,"v":25.0},{"f":"670","s":1,"t":9.34,"v":29.8},{"f":"670","s":1,"t":9.35,"v":25.3},{"f":"670","s":1,"t":9.37,"v":27.2},{"f":"670","s":1,"t":9.39,"v":25.1},{"f":"670","s":1,"t":9.41,"v":32.3},{"f":"670","s":1,"t":9.42,"v":25.6},{"f":"670","s":1,"t":9.44,"v":27.0},{"f":"670","s":1,"t":9.46,"v":25.2},{"f":"670","s":1,"t":9.48,"v":26.8},{"f":"670","s":1,"t":9.5,"v":25.5},{"f":"670","s":1,"t":9.51,"v":27.0},
{"f":"670","s":2,"t":9.91,"v":20.8},{"f":"670","s":2,"t":9.93,"v":21.8},{"f":"670","s":2,"t":9.95,"v":21.2},{"f":"670","s":2,"t":9.97,"v":22.4},{"f":"670","s":2,"t":9.99,"v":22.0},{"f":"670","s":2,"t":10.02,"v":23.0},{"f":"670","s":2,"t":10.05,"v":23.9},{"f":"670","s":2,"t":10.08,"v":23.3},{"f":"670","s":2,"t":10.1,"v":24.3},{"f":"670","s":2,"t":10.11,"v":39.2},{"f":"670","s":2,"t":10.12,"v":24.2},{"f":"670","s":2,"t":10.14,"v":23.2},{"f":"670","s":2,"t":10.17,"v":23.9},{"f":"670","s":2,"t":10.2,"v":23.1},{"f":"670","s":2,"t":10.23,"v":23.7},{"f":"670","s":2,"t":10.26,"v":22.8},{"f":"670","s":2,"t":10.29,"v":23.4},{"f":"670","s":2,"t":10.32,"v":22.6},{"f":"670","s":2,"t":10.35,"v":23.0},{"f":"670","s":2,"t":10.38,"v":22.3},{"f":"670","s":2,"t":10.41,"v":22.7},{"f":"670","s":2,"t":10.44,"v":22.1},{"f":"670","s":2,"t":10.47,"v":22.6},{"f":"670","s":2,"t":10.5,"v":21.9},{"f":"670","s":2,"t":10.54,"v":22.4},{"f":"670","s":2,"t":10.58,"v":21.8},{"f":"670","s":2,"t":10.62,"v":22.2},{"f":"670","s":2,"t":10.66,"v":21.9},{"f":"670","s":2,"t":10.7,"v":22.6},{"f":"670","s":2,"t":10.74,"v":22.1},{"f":"670","s":2,"t":10.78,"v":22.8},{"f":"670","s":2,"t":10.82,"v":22.3},{"f":"670","s":2,"t":10.86,"v":22.9},{"f":"670","s":2,"t":10.9,"v":22.4},{"f":"670","s":2,"t":10.94,"v":22.7},{"f":"670","s":2,"t":10.98,"v":22.0},{"f":"670","s":2,"t":11.02,"v":22.3},{"f":"670","s":2,"t":11.06,"v":21.6},{"f":"670","s":2,"t":11.1,"v":21.9},{"f":"670","s":2,"t":11.14,"v":21.3},{"f":"670","s":2,"t":11.18,"v":21.7},{"f":"670","s":2,"t":11.22,"v":21.1},{"f":"670","s":2,"t":11.26,"v":21.5},{"f":"670","s":2,"t":11.3,"v":21.0},{"f":"670","s":2,"t":11.34,"v":21.6},{"f":"670","s":2,"t":11.38,"v":21.1},{"f":"670","s":2,"t":11.43,"v":21.6},{"f":"670","s":2,"t":11.48,"v":21.2},{"f":"670","s":2,"t":11.53,"v":21.7},{"f":"670","s":2,"t":11.58,"v":21.2},{"f":"670","s":2,"t":11.63,"v":21.6},{"f":"670","s":2,"t":11.68,"v":21.3},{"f":"670","s":2,"t":11.73,"v":21.7},{"f":"670","s":2,"t":11.78,"v":21.2},{"f":"670","s":2,"t":11.83,"v":21.6},{"f":"670","s":2,"t":11.88,"v":21.2},{"f":"670","s":2,"t":11.93,"v":21.5},{"f":"670","s":2,"t":11.98,"v":21.0},{"f":"670","s":2,"t":12.03,"v":21.3},{"f":"670","s":2,"t":12.08,"v":20.7},{"f":"670","s":2,"t":12.13,"v":21.1},{"f":"670","s":2,"t":12.18,"v":21.5},{"f":"670","s":2,"t":12.22,"v":21.2},{"f":"670","s":2,"t":12.26,"v":22.0},{"f":"670","s":2,"t":12.3,"v":21.7},{"f":"670","s":2,"t":12.35,"v":22.6},{"f":"670","s":2,"t":12.4,"v":23.2},{"f":"670","s":2,"t":12.45,"v":24.0},{"f":"670","s":2,"t":12.5,"v":24.5},{"f":"670","s":2,"t":12.55,"v":23.6},{"f":"670","s":2,"t":12.6,"v":23.0},{"f":"670","s":2,"t":12.65,"v":23.4},{"f":"670","s":2,"t":12.7,"v":22.8},{"f":"670","s":2,"t":12.75,"v":24.0},{"f":"670","s":2,"t":12.8,"v":24.8},{"f":"670","s":2,"t":12.85,"v":25.6},{"f":"670","s":2,"t":12.9,"v":25.2},{"f":"670","s":2,"t":12.95,"v":24.3},{"f":"670","s":2,"t":13.0,"v":23.7},{"f":"670","s":2,"t":13.05,"v":24.3},{"f":"670","s":2,"t":13.1,"v":25.2},{"f":"670","s":2,"t":13.15,"v":26.2},{"f":"670","s":2,"t":13.2,"v":25.5},{"f":"670","s":2,"t":13.25,"v":27.0},{"f":"670","s":2,"t":13.3,"v":26.2},{"f":"670","s":2,"t":13.33,"v":27.6},{"f":"670","s":2,"t":13.36,"v":26.0},{"f":"670","s":2,"t":13.4,"v":27.2},{"f":"670","s":2,"t":13.45,"v":25.4},{"f":"670","s":2,"t":13.5,"v":26.3},{"f":"670","s":2,"t":13.55,"v":25.0},{"f":"670","s":2,"t":13.6,"v":24.2},{"f":"670","s":2,"t":13.65,"v":25.3},{"f":"670","s":2,"t":13.7,"v":23.6},{"f":"670","s":2,"t":13.75,"v":24.5},{"f":"670","s":2,"t":13.8,"v":23.3},{"f":"670","s":2,"t":13.85,"v":24.0},{"f":"670","s":2,"t":13.9,"v":23.1},{"f":"670","s":2,"t":13.95,"v":24.2},{"f":"670","s":2,"t":13.99,"v":26.5},
{"f":"405","s":1,"t":6.12,"v":26.4},{"f":"405","s":1,"t":6.14,"v":27.3},{"f":"405","s":1,"t":6.18,"v":27.0},{"f":"405","s":1,"t":6.21,"v":27.5},{"f":"405","s":1,"t":6.22,"v":29.0},{"f":"405","s":1,"t":6.23,"v":27.2},{"f":"405","s":1,"t":6.28,"v":27.5},{"f":"405","s":1,"t":6.34,"v":27.1},{"f":"405","s":1,"t":6.4,"v":27.4},{"f":"405","s":1,"t":6.46,"v":27.0},{"f":"405","s":1,"t":6.52,"v":27.4},{"f":"405","s":1,"t":6.58,"v":27.1},{"f":"405","s":1,"t":6.64,"v":27.5},{"f":"405","s":1,"t":6.7,"v":27.1},{"f":"405","s":1,"t":6.76,"v":27.0},{"f":"405","s":1,"t":6.82,"v":27.2},{"f":"405","s":1,"t":6.88,"v":26.9},{"f":"405","s":1,"t":6.94,"v":27.0},{"f":"405","s":1,"t":7.0,"v":26.7},{"f":"405","s":1,"t":7.06,"v":26.5},{"f":"405","s":1,"t":7.12,"v":26.3},{"f":"405","s":1,"t":7.16,"v":26.5},{"f":"405","s":1,"t":7.17,"v":29.9},{"f":"405","s":1,"t":7.18,"v":26.3},{"f":"405","s":1,"t":7.24,"v":26.5},{"f":"405","s":1,"t":7.3,"v":26.3},{"f":"405","s":1,"t":7.36,"v":26.5},{"f":"405","s":1,"t":7.42,"v":26.3},{"f":"405","s":1,"t":7.48,"v":26.4},{"f":"405","s":1,"t":7.49,"v":29.9},{"f":"405","s":1,"t":7.5,"v":26.4},{"f":"405","s":1,"t":7.56,"v":26.6},{"f":"405","s":1,"t":7.62,"v":26.9},{"f":"405","s":1,"t":7.68,"v":26.5},{"f":"405","s":1,"t":7.74,"v":26.2},{"f":"405","s":1,"t":7.8,"v":26.4},{"f":"405","s":1,"t":7.86,"v":26.2},{"f":"405","s":1,"t":7.92,"v":26.5},{"f":"405","s":1,"t":7.98,"v":26.3},{"f":"405","s":1,"t":8.04,"v":26.5},{"f":"405","s":1,"t":8.1,"v":26.3},{"f":"405","s":1,"t":8.16,"v":26.5},{"f":"405","s":1,"t":8.22,"v":26.4},{"f":"405","s":1,"t":8.28,"v":26.6},{"f":"405","s":1,"t":8.34,"v":26.4},{"f":"405","s":1,"t":8.4,"v":26.6},{"f":"405","s":1,"t":8.46,"v":26.4},{"f":"405","s":1,"t":8.52,"v":26.6},{"f":"405","s":1,"t":8.58,"v":26.4},{"f":"405","s":1,"t":8.64,"v":26.6},{"f":"405","s":1,"t":8.7,"v":26.5},{"f":"405","s":1,"t":8.76,"v":26.7},{"f":"405","s":1,"t":8.82,"v":26.5},{"f":"405","s":1,"t":8.88,"v":26.6},{"f":"405","s":1,"t":8.94,"v":26.5},{"f":"405","s":1,"t":8.99,"v":26.6},{"f":"405","s":1,"t":9.0,"v":28.4},{"f":"405","s":1,"t":9.01,"v":26.6},{"f":"405","s":1,"t":9.06,"v":26.7},{"f":"405","s":1,"t":9.12,"v":26.5},{"f":"405","s":1,"t":9.18,"v":26.8},{"f":"405","s":1,"t":9.24,"v":26.6},{"f":"405","s":1,"t":9.3,"v":26.9},{"f":"405","s":1,"t":9.36,"v":26.6},{"f":"405","s":1,"t":9.42,"v":26.9},{"f":"405","s":1,"t":9.48,"v":26.7},{"f":"405","s":1,"t":9.51,"v":26.9},
{"f":"405","s":2,"t":9.91,"v":26.2},{"f":"405","s":2,"t":9.95,"v":26.8},{"f":"405","s":2,"t":9.97,"v":27.2},{"f":"405","s":2,"t":9.98,"v":37.4},{"f":"405","s":2,"t":10.0,"v":27.5},{"f":"405","s":2,"t":10.04,"v":26.9},{"f":"405","s":2,"t":10.1,"v":27.0},{"f":"405","s":2,"t":10.16,"v":26.8},{"f":"405","s":2,"t":10.22,"v":26.9},{"f":"405","s":2,"t":10.3,"v":26.7},{"f":"405","s":2,"t":10.38,"v":26.9},{"f":"405","s":2,"t":10.46,"v":26.7},{"f":"405","s":2,"t":10.54,"v":26.9},{"f":"405","s":2,"t":10.62,"v":26.8},{"f":"405","s":2,"t":10.7,"v":26.9},{"f":"405","s":2,"t":10.78,"v":26.7},{"f":"405","s":2,"t":10.86,"v":26.9},{"f":"405","s":2,"t":10.94,"v":26.8},{"f":"405","s":2,"t":11.02,"v":26.7},{"f":"405","s":2,"t":11.1,"v":26.9},{"f":"405","s":2,"t":11.18,"v":26.7},{"f":"405","s":2,"t":11.26,"v":26.9},{"f":"405","s":2,"t":11.34,"v":27.1},{"f":"405","s":2,"t":11.42,"v":26.8},{"f":"405","s":2,"t":11.5,"v":27.0},{"f":"405","s":2,"t":11.58,"v":26.9},{"f":"405","s":2,"t":11.66,"v":27.1},{"f":"405","s":2,"t":11.74,"v":27.0},{"f":"405","s":2,"t":11.8,"v":27.3},{"f":"405","s":2,"t":11.86,"v":27.6},{"f":"405","s":2,"t":11.92,"v":27.4},{"f":"405","s":2,"t":11.98,"v":28.0},{"f":"405","s":2,"t":12.04,"v":28.3},{"f":"405","s":2,"t":12.1,"v":28.0},{"f":"405","s":2,"t":12.16,"v":28.4},{"f":"405","s":2,"t":12.22,"v":28.1},{"f":"405","s":2,"t":12.27,"v":28.8},{"f":"405","s":2,"t":12.32,"v":28.2},{"f":"405","s":2,"t":12.38,"v":27.9},{"f":"405","s":2,"t":12.44,"v":27.7},{"f":"405","s":2,"t":12.5,"v":27.9},{"f":"405","s":2,"t":12.56,"v":27.5},{"f":"405","s":2,"t":12.62,"v":27.6},{"f":"405","s":2,"t":12.68,"v":27.3},{"f":"405","s":2,"t":12.74,"v":27.5},{"f":"405","s":2,"t":12.8,"v":27.2},{"f":"405","s":2,"t":12.86,"v":27.4},{"f":"405","s":2,"t":12.92,"v":27.1},{"f":"405","s":2,"t":12.98,"v":27.3},{"f":"405","s":2,"t":13.04,"v":27.1},{"f":"405","s":2,"t":13.1,"v":27.2},{"f":"405","s":2,"t":13.18,"v":27.0},{"f":"405","s":2,"t":13.26,"v":27.1},{"f":"405","s":2,"t":13.34,"v":27.0},{"f":"405","s":2,"t":13.42,"v":27.1},{"f":"405","s":2,"t":13.5,"v":27.0},{"f":"405","s":2,"t":13.58,"v":27.1},{"f":"405","s":2,"t":13.66,"v":26.9},{"f":"405","s":2,"t":13.74,"v":27.1},{"f":"405","s":2,"t":13.82,"v":27.0},{"f":"405","s":2,"t":13.9,"v":27.1},{"f":"405","s":2,"t":13.99,"v":27.0},
{"f":"275","s":1,"t":6.12,"v":15.9},{"f":"275","s":1,"t":6.2,"v":16.1},{"f":"275","s":1,"t":6.28,"v":15.9},{"f":"275","s":1,"t":6.36,"v":16.2},{"f":"275","s":1,"t":6.44,"v":16.0},{"f":"275","s":1,"t":6.52,"v":16.3},{"f":"275","s":1,"t":6.6,"v":16.0},{"f":"275","s":1,"t":6.68,"v":16.3},{"f":"275","s":1,"t":6.76,"v":16.0},{"f":"275","s":1,"t":6.84,"v":16.1},{"f":"275","s":1,"t":6.92,"v":15.8},{"f":"275","s":1,"t":7.0,"v":15.9},{"f":"275","s":1,"t":7.08,"v":15.7},{"f":"275","s":1,"t":7.16,"v":15.9},{"f":"275","s":1,"t":7.24,"v":15.7},{"f":"275","s":1,"t":7.32,"v":15.9},{"f":"275","s":1,"t":7.4,"v":15.7},{"f":"275","s":1,"t":7.46,"v":15.8},{"f":"275","s":1,"t":7.5,"v":15.3},{"f":"275","s":1,"t":7.54,"v":15.8},{"f":"275","s":1,"t":7.6,"v":16.0},{"f":"275","s":1,"t":7.66,"v":15.6},{"f":"275","s":1,"t":7.72,"v":15.4},{"f":"275","s":1,"t":7.78,"v":15.7},{"f":"275","s":1,"t":7.84,"v":16.0},{"f":"275","s":1,"t":7.9,"v":15.9},{"f":"275","s":1,"t":7.96,"v":16.0},{"f":"275","s":1,"t":8.02,"v":15.8},{"f":"275","s":1,"t":8.08,"v":15.5},{"f":"275","s":1,"t":8.14,"v":15.4},{"f":"275","s":1,"t":8.2,"v":15.6},{"f":"275","s":1,"t":8.26,"v":15.8},{"f":"275","s":1,"t":8.32,"v":15.5},{"f":"275","s":1,"t":8.38,"v":15.4},{"f":"275","s":1,"t":8.46,"v":15.6},{"f":"275","s":1,"t":8.54,"v":15.4},{"f":"275","s":1,"t":8.62,"v":15.5},{"f":"275","s":1,"t":8.7,"v":15.4},{"f":"275","s":1,"t":8.78,"v":15.6},{"f":"275","s":1,"t":8.86,"v":15.4},{"f":"275","s":1,"t":8.94,"v":15.5},{"f":"275","s":1,"t":9.02,"v":15.4},{"f":"275","s":1,"t":9.1,"v":15.6},{"f":"275","s":1,"t":9.18,"v":15.4},{"f":"275","s":1,"t":9.26,"v":15.6},{"f":"275","s":1,"t":9.34,"v":15.5},{"f":"275","s":1,"t":9.42,"v":15.6},{"f":"275","s":1,"t":9.51,"v":15.5},
{"f":"275","s":2,"t":9.91,"v":15.4},{"f":"275","s":2,"t":9.92,"v":17.9},{"f":"275","s":2,"t":9.93,"v":15.6},{"f":"275","s":2,"t":9.95,"v":20.2},{"f":"275","s":2,"t":9.96,"v":15.8},{"f":"275","s":2,"t":9.98,"v":17.5},{"f":"275","s":2,"t":9.99,"v":15.5},{"f":"275","s":2,"t":10.09,"v":15.6},{"f":"275","s":2,"t":10.1,"v":21.1},{"f":"275","s":2,"t":10.12,"v":18.0},{"f":"275","s":2,"t":10.14,"v":15.7},{"f":"275","s":2,"t":10.25,"v":15.5},{"f":"275","s":2,"t":10.42,"v":15.6},{"f":"275","s":2,"t":10.43,"v":38.7},{"f":"275","s":2,"t":10.44,"v":15.5},{"f":"275","s":2,"t":10.6,"v":15.4},{"f":"275","s":2,"t":10.84,"v":15.6},{"f":"275","s":2,"t":10.85,"v":51.3},{"f":"275","s":2,"t":10.86,"v":17.0},{"f":"275","s":2,"t":10.87,"v":15.5},{"f":"275","s":2,"t":11.0,"v":15.3},{"f":"275","s":2,"t":11.14,"v":15.4},{"f":"275","s":2,"t":11.15,"v":85.6},{"f":"275","s":2,"t":11.16,"v":15.3},{"f":"275","s":2,"t":11.25,"v":15.5},{"f":"275","s":2,"t":11.28,"v":21.6},{"f":"275","s":2,"t":11.3,"v":19.0},{"f":"275","s":2,"t":11.31,"v":26.7},{"f":"275","s":2,"t":11.32,"v":20.5},{"f":"275","s":2,"t":11.34,"v":16.0},{"f":"275","s":2,"t":11.36,"v":15.3},{"f":"275","s":2,"t":11.5,"v":15.4},{"f":"275","s":2,"t":11.65,"v":15.2},{"f":"275","s":2,"t":11.81,"v":15.4},{"f":"275","s":2,"t":11.82,"v":18.3},{"f":"275","s":2,"t":11.83,"v":15.4},{"f":"275","s":2,"t":12.0,"v":15.2},{"f":"275","s":2,"t":12.2,"v":15.4},{"f":"275","s":2,"t":12.4,"v":15.3},{"f":"275","s":2,"t":12.6,"v":15.2},{"f":"275","s":2,"t":12.71,"v":15.4},{"f":"275","s":2,"t":12.72,"v":18.0},{"f":"275","s":2,"t":12.74,"v":15.6},{"f":"275","s":2,"t":12.9,"v":15.4},{"f":"275","s":2,"t":13.1,"v":15.3},{"f":"275","s":2,"t":13.25,"v":15.2},{"f":"275","s":2,"t":13.37,"v":15.0},{"f":"275","s":2,"t":13.38,"v":27.6},{"f":"275","s":2,"t":13.39,"v":15.2},{"f":"275","s":2,"t":13.5,"v":15.0},{"f":"275","s":2,"t":13.7,"v":15.2},{"f":"275","s":2,"t":13.85,"v":15.3},{"f":"275","s":2,"t":13.99,"v":15.4}
]},
"resolve": {"scale": {"y": "independent"}},
"layer": [
{"data": {"name": "obs"},
 "mark": {"type": "line", "interpolate": "step-after", "strokeWidth": 1.5, "clip": true},
 "encoding": {
  "x": {"field": "t", "type": "quantitative", "scale": {"domain": [1.9, 16], "nice": false, "zero": false},
        "axis": {"orient": "bottom", "values": [4.45, 6, 8, 10, 12, 14], "labelExpr": "datum.value < 5 ? 'UT' : datum.label", "title": null, "tickSize": -4, "labelPadding": 12, "tickColor": {"condition": {"test": "datum.value < 5", "value": "transparent"}, "value": "black"}}},
  "y": {"field": "v", "type": "quantitative", "scale": {"domain": [0, 90], "nice": false, "zero": true},
        "axis": {"orient": "right", "values": [0, 20, 40, 60, 80], "title": null, "tickSize": -4, "labelPadding": 10}},
  "color": {"field": "f", "type": "nominal", "scale": {"domain": ["1755","1620","1350","1215","1080","925","810","670","405","275"], "range": ["#ff0000","#c04010","#806010","#207820","#00c000","#10c070","#10c0c0","#0000ff","#2020c0","#8000c0"]}, "legend": null},
  "detail": {"field": "s", "type": "nominal"}
 }},
{"mark": {"type": "rule", "color": "#808080", "strokeWidth": 1},
 "encoding": {"x": {"datum": 4.45, "type": "quantitative", "axis": {"orient": "top", "values": [6, 8, 10, 12, 14], "labels": false, "title": null, "tickSize": -4}}}},
{"data": {"name": "leg"},
 "mark": {"type": "text", "align": "right", "baseline": "middle", "font": "DejaVu Sans Mono", "fontSize": 10},
 "encoding": {
  "x": {"datum": 3.28, "type": "quantitative", "axis": null},
  "y": {"field": "f", "type": "nominal", "scale": {"type": "point", "domain": ["1755","1620","1350","1215","1080","925","810","670","405","275"], "padding": 1.036, "align": 0.52}, "axis": null},
  "text": {"field": "label"},
  "color": {"field": "f", "type": "nominal", "legend": null}
 }},
{"data": {"name": "leg"},
 "mark": {"type": "rule", "strokeWidth": 1},
 "encoding": {
  "x": {"datum": 3.44, "type": "quantitative", "axis": null},
  "x2": {"datum": 4.14},
  "y": {"field": "f", "type": "nominal", "scale": {"type": "point", "domain": ["1755","1620","1350","1215","1080","925","810","670","405","275"], "padding": 1.036, "align": 0.52}, "axis": null},
  "color": {"field": "f", "type": "nominal", "legend": null}
 }}
]
}
